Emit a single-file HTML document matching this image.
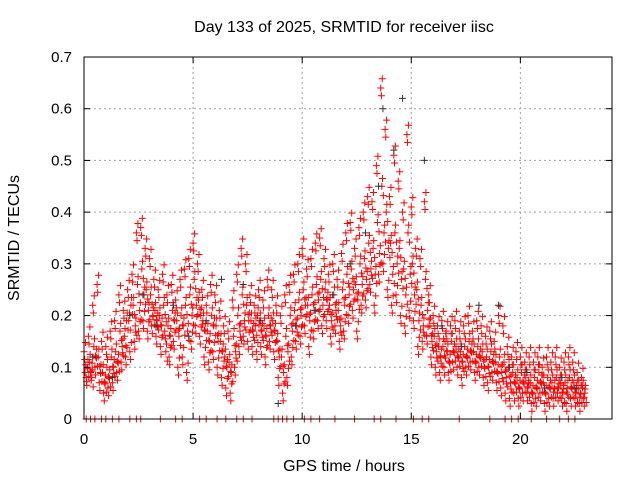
<!DOCTYPE html>
<html><head><meta charset="utf-8"><style>
body{margin:0;background:#fff}
svg{display:block;font-family:"Liberation Sans",sans-serif}
</style></head><body>
<svg id="c" width="640" height="480">
<text x="344" y="32" text-anchor="middle" font-size="16">Day 133 of 2025, SRMTID for receiver iisc</text>
<text x="344" y="471" text-anchor="middle" font-size="16">GPS time / hours</text>
<text transform="translate(19,238) rotate(-90)" text-anchor="middle" font-size="16">SRMTID / TECUs</text>
<g id="grid"></g><g id="marks"></g><g id="axes"></g>
</svg>
<script>
const times=[0.0,0.2,0.4,0.6,0.8,1.0,1.2,1.4,1.6,1.8,2.0,2.2,2.4,2.6,2.8,3.0,3.2,3.4,3.6,3.8,4.0,4.2,4.4,4.6,4.8,5.0,5.2,5.4,5.6,5.8,6.0,6.2,6.4,6.6,6.8,7.0,7.2,7.4,7.6,7.8,8.0,8.2,8.4,8.6,8.8,9.0,9.2,9.4,9.6,9.8,10.0,10.2,10.4,10.6,10.8,11.0,11.2,11.4,11.6,11.8,12.0,12.2,12.4,12.6,12.8,13.0,13.2,13.4,13.6,13.8,14.0,14.2,14.4,14.6,14.8,15.0,15.2,15.4,15.6,15.8,16.0,16.2,16.4,16.6,16.8,17.0,17.2,17.4,17.6,17.8,18.0,18.2,18.4,18.6,18.8,19.0,19.2,19.4,19.6,19.8,20.0,20.2,20.4,20.6,20.8,21.0,21.2,21.4,21.6,21.8,22.0,22.2,22.4,22.6,22.8];
const hiVals=[.13,.16,.22,.26,.15,.14,.17,.19,.24,.21,.25,.28,.36,.37,.33,.31,.27,.25,.28,.24,.26,.23,.27,.29,.31,.34,.30,.25,.22,.26,.24,.21,.18,.17,.23,.28,.33,.30,.24,.22,.25,.23,.27,.25,.22,.20,.24,.26,.28,.30,.33,.29,.31,.34,.35,.31,.28,.30,.27,.32,.36,.38,.33,.37,.40,.43,.42,.49,.64,.56,.43,.51,.46,.40,.55,.41,.33,.31,.42,.24,.20,.18,.19,.17,.18,.19,.17,.18,.20,.17,.19,.18,.16,.17,.15,.20,.18,.14,.12,.13,.12,.11,.12,.11,.12,.10,.12,.11,.12,.10,.11,.12,.11,.09,.08];
const midVals=[.09,.11,.14,.12,.09,.10,.12,.13,.17,.16,.19,.22,.26,.29,.25,.24,.21,.20,.22,.18,.21,.19,.20,.22,.24,.27,.23,.19,.17,.20,.18,.15,.12,.11,.16,.20,.24,.22,.19,.18,.19,.18,.20,.19,.15,.12,.16,.20,.21,.23,.25,.22,.24,.26,.27,.25,.22,.24,.21,.25,.28,.29,.26,.30,.31,.34,.33,.38,.45,.40,.34,.36,.33,.29,.36,.30,.25,.22,.27,.18,.16,.14,.14,.13,.15,.14,.13,.14,.15,.13,.14,.13,.12,.13,.11,.12,.11,.10,.09,.08,.09,.08,.07,.08,.09,.07,.08,.07,.08,.07,.07,.08,.07,.06,.06];
const loVals=[.08,.09,.10,.07,.05,.06,.07,.09,.11,.12,.13,.15,.17,.19,.17,.18,.16,.14,.17,.12,.15,.10,.12,.09,.15,.18,.16,.12,.11,.13,.10,.08,.06,.05,.10,.14,.16,.15,.14,.13,.14,.12,.15,.13,.08,.05,.08,.12,.15,.16,.18,.14,.17,.19,.18,.19,.16,.18,.15,.17,.20,.21,.17,.22,.23,.26,.22,.28,.30,.25,.22,.24,.20,.18,.21,.19,.14,.15,.16,.12,.10,.09,.10,.09,.11,.10,.08,.10,.11,.09,.10,.08,.07,.09,.07,.06,.05,.04,.05,.04,.05,.05,.03,.04,.05,.03,.04,.04,.05,.04,.03,.04,.04,.03,.04];
const extraVals=[.10,.08,.12,.09,.07,.08,.10,.11,.14,.19,.22,.18,.21,.24,.21,.20,.19,.18,.13,.16,.19,.16,.18,.17,.20,.22,.20,.17,.15,.18,.15,.13,.10,.09,.13,.17,.19,.19,.17,.20,.17,.16,.18,.17,.12,.09,.13,.17,.18,.20,.22,.19,.21,.23,.22,.23,.19,.21,.18,.22,.24,.25,.23,.26,.27,.29,.28,.32,.36,.33,.28,.30,.27,.24,.28,.24,.19,.18,.21,.15,.13,.12,.15,.11,.13,.12,.11,.12,.13,.11,.12,.10,.10,.11,.09,.09,.08,.07,.07,.06,.07,.06,.05,.06,.07,.05,.06,.06,.06,.05,.06,.06,.05,.05,.05];
const zeroTimes=[0.1,0.3,0.5,0.8,1.0,1.3,1.6,2.1,2.4,2.6,3.5,4.2,4.5,5.3,5.6,6.1,6.5,7.0,7.3,7.7,8.7,8.9,9.1,9.3,9.6,10.1,10.4,10.8,11.5,12.4,13.3,13.6,14.3,15.1,15.5,15.8,17.2,18.6,19.3,19.6,19.9,20.5,21.2,21.8,22.2,22.5];
const darkTimes=[0.4,1.3,2.1,2.7,3.3,4.1,4.8,5.6,6.3,7.3,8.1,8.9,9.7,10.6,11.4,12.2,12.9,13.5,13.7,14.2,14.6,15.6,16.4,17.3,18.1,19.0,19.5,20.3,21.1,21.9,22.5];
const darkVals=[.12,.08,.20,.24,.18,.22,.16,.19,.27,.26,.19,.03,.18,.21,.24,.30,.36,.45,.60,.52,.62,.50,.18,.14,.22,.22,.10,.09,.06,.08,.06];

const X0=84,X1=612,Y0=419,Y1=57,XMAX=24.2,YMAX=0.7;
const xs=t=>X0+t/XMAX*(X1-X0);
const ys=v=>Y0-v/YMAX*(Y0-Y1);
const NS="http://www.w3.org/2000/svg";
function mk(tag,at,parent){const e=document.createElementNS(NS,tag);for(const k in at)e.setAttribute(k,at[k]);parent.appendChild(e);return e;}
const grid=document.getElementById('grid'),axes=document.getElementById('axes'),marks=document.getElementById('marks');
const yTicks=[0,0.1,0.2,0.3,0.4,0.5,0.6,0.7],xTicks=[0,5,10,15,20];
yTicks.forEach(v=>{const y=ys(v);
 if(v>0&&v<0.7){const g=mk('line',{x1:X0,x2:X1,y1:y,y2:y,stroke:'#a0a0a0','stroke-dasharray':'2,3'},grid);
 
 }
 mk('line',{x1:X0,x2:X0+6,y1:y,y2:y,stroke:'#000'},axes);mk('line',{x1:X1,x2:X1-6,y1:y,y2:y,stroke:'#000'},axes);
 const t=mk('text',{x:X0-12,y:y+5,'text-anchor':'end','font-size':15},axes);t.textContent=v===0?'0':v.toFixed(1);
 
 });
xTicks.forEach(v=>{const x=xs(v);
 if(v>0){const g=mk('line',{x1:x,x2:x,y1:Y0,y2:Y1,stroke:'#a0a0a0','stroke-dasharray':'2,3'},grid);
 
 }
 mk('line',{x1:x,x2:x,y1:Y0,y2:Y0-6,stroke:'#000'},axes);mk('line',{x1:x,x2:x,y1:Y1,y2:Y1+6,stroke:'#000'},axes);
 const t=mk('text',{x:x,y:444,'text-anchor':'middle','font-size':15},axes);t.textContent=v;
 
 });
const frame=mk('rect',{x:X0,y:Y1,width:X1-X0,height:Y0-Y1,fill:'none',stroke:'#000'},axes);


function plus(t,v,col,name){const x=xs(t),y=ys(v);
 const p=mk('path',{d:`M${x-3.5},${y}h7M${x},${y-3.5}v7`,stroke:col,'stroke-width':1,fill:'none'},marks);
 
 }
const series=[hiVals,midVals,loVals,extraVals],offs=[0,0.05,0.1,0.15];
const copyDx=[0,0.03,0.07],copyDy=[0,-0.015,0.018];
series.forEach((arr,s)=>arr.forEach((v,i)=>{copyDx.forEach((dx,k)=>{const dy=(s%2?-1:1)*copyDy[k];plus(times[i]+offs[s]+dx,Math.max(0.005,v+dy),'#ff0000','srmtid-point');});}));
zeroTimes.forEach(t=>plus(t,0,'#ff0000','zero-point'));
darkTimes.forEach((t,i)=>plus(t,darkVals[i],'#333333','dark-point'));
</script>
</body></html>
